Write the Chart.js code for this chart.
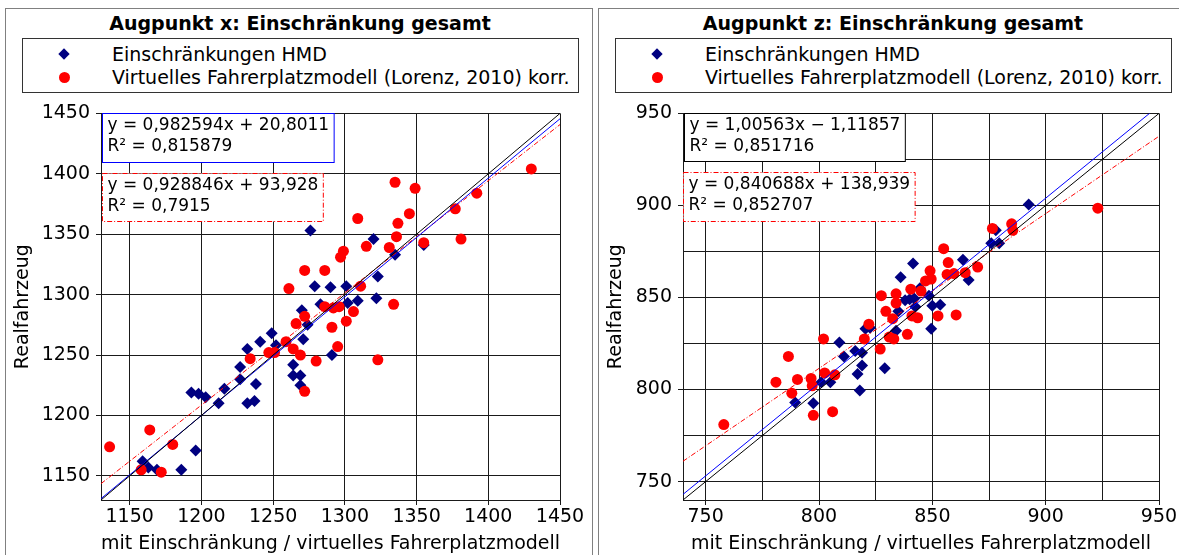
<!DOCTYPE html>
<html lang="de">
<head>
  <meta charset="UTF-8">
  <title>Augpunkt x / z: Einschränkung gesamt</title>
  <script src="https://cdn.jsdelivr.net/npm/chart.js"></script>
  <style>
    body { margin: 0; background: #fff; font-family: "DejaVu Sans", sans-serif; color: #000; }
    #page { position: relative; width: 1179px; height: 555px; overflow: hidden; }
    .frame { position: absolute; top: 8px; height: 600px; box-sizing: border-box; border: 1px solid #808080; }
    .title { position: absolute; top: 12px; width: 600px; margin-left: -300px; text-align: center; font-weight: bold; font-size: 19px; line-height: 22px; }
    .legend { position: absolute; top: 38px; width: 557px; height: 55px; box-sizing: border-box; border: 1px solid #333; background: #fff; }
    .legend .row { position: absolute; left: 0; padding-left: 89px; font-size: 19px; line-height: 22px; white-space: nowrap; }
    .legend .diamond { position: absolute; left: 37px; top: 7px; width: 8px; height: 8px; background: #000080; transform: rotate(45deg); }
    .legend .dot { position: absolute; left: 35.5px; top: 5.5px; width: 11px; height: 11px; border-radius: 50%; background: #ff0000; }
    canvas { position: absolute; top: 96px; }
  </style>
</head>
<body>
<div id="page">
  <div class="frame" style="left:5px; width:588px;"></div>
  <div class="frame" style="left:598px; width:600px; border-right:none;"></div>
  <div class="title" style="left:300px">Augpunkt x: Einschränkung gesamt</div>
  <div class="title" style="left:893px">Augpunkt z: Einschränkung gesamt</div>
  <div class="legend" id="legendX" style="left:22px"></div>
  <div class="legend" id="legendZ" style="left:615px"></div>
  <canvas id="chartX" width="585" height="459" style="left:6px"></canvas>
  <canvas id="chartZ" width="580" height="459" style="left:599px"></canvas>
</div>

<script>
  Chart.defaults.font.family = "'DejaVu Sans', sans-serif";
  Chart.defaults.font.size = 19;
  Chart.defaults.color = '#000';

  const seriesNames = ['Einschränkungen HMD', 'Virtuelles Fahrerplatzmodell (Lorenz, 2010) korr.'];
  const xAxisTitle = 'mit Einschränkung / virtuelles Fahrerplatzmodell';
  const yAxisTitle = 'Realfahrzeug';

  // Augpunkt x
  const augX_range = [1130, 1450];
  const augX_ticks = [1150, 1200, 1250, 1300, 1350, 1400, 1450];
  const augX_labelTicks = [1150, 1200, 1250, 1300, 1350, 1400, 1450];
  const augX_hmd_mit  = [1159, 1163, 1169, 1186, 1196, 1193, 1198, 1203, 1212, 1216, 1227, 1227, 1232, 1232, 1237, 1238, 1241, 1249, 1252, 1264, 1264, 1269, 1269, 1271, 1270, 1274, 1283, 1279, 1290, 1291, 1301, 1302, 1309, 1322, 1323, 1335, 1276, 1320, 1355];
  const augX_hmd_real = [1162, 1157, 1155, 1155, 1171, 1219, 1218, 1215, 1210, 1222, 1230, 1240, 1255, 1210, 1212, 1226, 1261, 1268, 1258, 1242, 1233, 1233, 1225, 1263, 1287, 1275, 1292, 1307, 1306, 1250, 1307, 1293, 1295, 1297, 1315, 1333, 1353, 1346, 1341];
  const augX_vfm_mit  = [1136, 1164, 1180, 1158, 1172, 1234, 1247, 1251, 1259, 1264, 1269, 1266, 1272, 1261, 1272, 1286, 1297, 1299, 1280, 1272, 1291, 1295, 1301, 1306, 1286, 1292, 1296, 1311, 1323, 1334, 1430, 1335, 1349, 1345, 1337, 1309, 1392, 1377, 1381, 1355, 1336, 1331, 1315];
  const augX_vfm_real = [1174, 1188, 1176, 1155, 1153, 1247, 1252, 1252, 1261, 1255, 1250, 1276, 1282, 1305, 1320, 1320, 1331, 1336, 1245, 1220, 1273, 1257, 1278, 1286, 1290, 1289, 1290, 1307, 1246, 1292, 1404, 1393, 1388, 1367, 1359, 1363, 1384, 1371, 1346, 1343, 1348, 1339, 1340];
  const augX_fitHmd = [0.982594, 20.8011];
  const augX_fitVfm = [0.928846, 93.928];
  const augX_fitHmdText = ['y = 0,982594x + 20,8011', 'R² = 0,815879'];
  const augX_fitVfmText = ['y = 0,928846x + 93,928', 'R² = 0,7915'];

  // Augpunkt z
  const augZ_range = [740, 950];
  const augZ_ticks = [750, 775, 800, 825, 850, 875, 900, 925, 950];
  const augZ_labelTicks = [750, 800, 850, 900, 950];
  const augZ_hmd_mit  = [789.5, 797.5, 801, 805, 809, 811, 816, 819, 819, 817, 818, 829, 820.5, 822.5, 834, 836, 841.5, 838, 840, 842, 835, 842.5, 844.5, 848.5, 850, 853.5, 849.5, 863.5, 866, 876, 879.5, 878, 892.5];
  const augZ_hmd_real = [793, 792.5, 804, 804, 825.5, 818, 821, 820, 813, 808.5, 799.5, 811.5, 833, 833.5, 832, 861, 868.5, 848.5, 849, 849.5, 842.5, 845, 855, 851, 845.5, 846, 833, 870.5, 859.5, 879.5, 879.5, 886.5, 900.5];
  const augZ_vfm_mit  = [758, 786.5, 781, 788, 790.5, 796.5, 797, 797.5, 806, 802.5, 807, 802, 820, 822, 827, 829.5, 827.5, 832.5, 831, 833, 839, 834, 834, 840.5, 841, 843.5, 845, 847, 849, 849.5, 852.5, 860.5, 857, 856.5, 859.5, 864.5, 870, 855, 876.5, 885, 885.5, 923];
  const augZ_vfm_real = [781, 818, 804, 798, 805.5, 806, 802, 786, 788, 809, 808, 827.5, 827.5, 835.5, 822, 842.5, 851, 838.5, 828.5, 827.5, 830, 852, 847, 854.5, 840, 839, 853.5, 859, 864.5, 860, 840, 840.5, 869, 862.5, 863, 863.5, 866.5, 876.5, 887.5, 890, 886.5, 898.5];
  const augZ_fitHmd = [1.00563, -1.11857];
  const augZ_fitVfm = [0.840688, 138.939];
  const augZ_fitHmdText = ['y = 1,00563x − 1,11857', 'R² = 0,851716'];
  const augZ_fitVfmText = ['y = 0,840688x + 138,939', 'R² = 0,852707'];

  const dashDot = [5, 2, 1, 2];
  const gridColor = '#1a1a1a';

  function points(xs, ys) {
    return xs.map((x, i) => ({x: x, y: ys[i]}));
  }

  // Regressionsgerade über den ganzen Achsenbereich
  function fitLine(coef, range) {
    return range.map(x => ({x: x, y: coef[0] * x + coef[1]}));
  }

  // Kästen mit Geradengleichung und Bestimmtheitsmaß
  const fitBoxes = {
    id: 'fitBoxes',
    afterDatasetsDraw(chart, args, opts) {
      const ctx = chart.ctx;
      const area = chart.chartArea;
      ctx.save();
      ctx.font = "17px 'DejaVu Sans', sans-serif";
      ctx.textBaseline = 'middle';
      opts.boxes.forEach(b => {
        const w = Math.max(...b.lines.map(t => ctx.measureText(t).width)) + 10;
        const x = Math.round(area.left + b.x) + 0.5;
        const y = Math.round(area.top + b.y) + 0.5;
        ctx.fillStyle = '#fff';
        ctx.fillRect(x, y, w, b.h);
        ctx.strokeStyle = b.color;
        ctx.lineWidth = 1;
        ctx.setLineDash(b.dash || []);
        ctx.strokeRect(x, y, w, b.h);
        ctx.setLineDash([]);
        ctx.fillStyle = '#000';
        b.lines.forEach((t, i) => ctx.fillText(t, x + 5, y + 12 + i * 21));
      });
      ctx.restore();
    }
  };

  function axis(range, ticks, labelTicks, title, titlePadding, tickPadding, fix) {
    return {
      type: 'linear',
      min: range[0],
      max: range[1],
      afterBuildTicks: s => { s.ticks = ticks.map(v => ({value: v})); },
      afterFit: fix,
      ticks: {
        autoSkip: false,
        maxRotation: 0,
        padding: tickPadding,
        callback: v => labelTicks.includes(v) ? String(v) : ''
      },
      grid: {
        color: gridColor,
        lineWidth: 1,
        tickLength: 5,
        tickColor: c => (c.tick && labelTicks.includes(c.tick.value)) ? gridColor : 'rgba(0,0,0,0)'
      },
      border: { color: gridColor, width: 1 },
      title: { display: true, text: title, padding: titlePadding }
    };
  }

  function makeChart(id, o) {
    new Chart(document.getElementById(id), {
      type: 'scatter',
      data: {
        datasets: [
          { label: 'y = x', data: fitLine([1, 0], o.range), showLine: true, borderColor: '#000', borderWidth: 1, pointRadius: 0, order: 0 },
          { label: 'Regression HMD', data: fitLine(o.fitHmd, o.range), showLine: true, borderColor: '#0000ff', borderWidth: 1, pointRadius: 0, order: 0 },
          { label: 'Regression Modell', data: fitLine(o.fitVfm, o.range), showLine: true, borderColor: '#ff0000', borderWidth: 1, borderDash: dashDot, pointRadius: 0, order: 0 },
          { label: seriesNames[1], data: points(o.vfmX, o.vfmY), pointStyle: 'circle', pointRadius: 5.5, backgroundColor: '#ff0000', borderColor: '#ff0000', borderWidth: 0, order: 1 },
          { label: seriesNames[0], data: points(o.hmdX, o.hmdY), pointStyle: 'rectRot', pointRadius: 6, backgroundColor: '#000080', borderColor: '#000080', borderWidth: 0, order: 2 }
        ]
      },
      options: {
        responsive: false,
        animation: false,
        devicePixelRatio: 1,
        layout: { padding: { left: 0, right: o.padRight, top: 12, bottom: 0 } },
        scales: {
          x: axis(o.range, o.ticks, o.labelTicks, xAxisTitle, {top: 0, bottom: 0}, 1, s => { s.height = 55; }),
          y: axis(o.range, o.ticks, o.labelTicks, yAxisTitle, {top: 6, bottom: 0}, 6, s => { s.width = o.yWidth; })
        },
        plugins: {
          legend: { display: false },
          tooltip: { enabled: false },
          fitBoxes: { boxes: o.boxes }
        }
      },
      plugins: [fitBoxes]
    });
  }

  function fillLegend(id) {
    document.getElementById(id).innerHTML =
      '<div class="row" style="top:4px"><span class="diamond"></span>' + seriesNames[0] + '</div>' +
      '<div class="row" style="top:27px"><span class="dot"></span>' + seriesNames[1] + '</div>';
  }

  fillLegend('legendX');
  fillLegend('legendZ');

  makeChart('chartX', {
    range: augX_range, ticks: augX_ticks, labelTicks: augX_labelTicks,
    hmdX: augX_hmd_mit, hmdY: augX_hmd_real, vfmX: augX_vfm_mit, vfmY: augX_vfm_real,
    fitHmd: augX_fitHmd, fitVfm: augX_fitVfm,
    yWidth: 95, padRight: 31,
    boxes: [
      { x: 1, y: 0, h: 49, color: '#0000ff', lines: augX_fitHmdText },
      { x: 1, y: 60, h: 48, color: '#ff0000', dash: dashDot, lines: augX_fitVfmText }
    ]
  });

  makeChart('chartZ', {
    range: augZ_range, ticks: augZ_ticks, labelTicks: augZ_labelTicks,
    hmdX: augZ_hmd_mit, hmdY: augZ_hmd_real, vfmX: augZ_vfm_mit, vfmY: augZ_vfm_real,
    fitHmd: augZ_fitHmd, fitVfm: augZ_fitVfm,
    yWidth: 84, padRight: 20,
    boxes: [
      { x: 1, y: 0, h: 48, color: '#000', lines: augZ_fitHmdText },
      { x: 0, y: 59, h: 49, color: '#ff0000', dash: dashDot, lines: augZ_fitVfmText }
    ]
  });
</script>
</body>
</html>
